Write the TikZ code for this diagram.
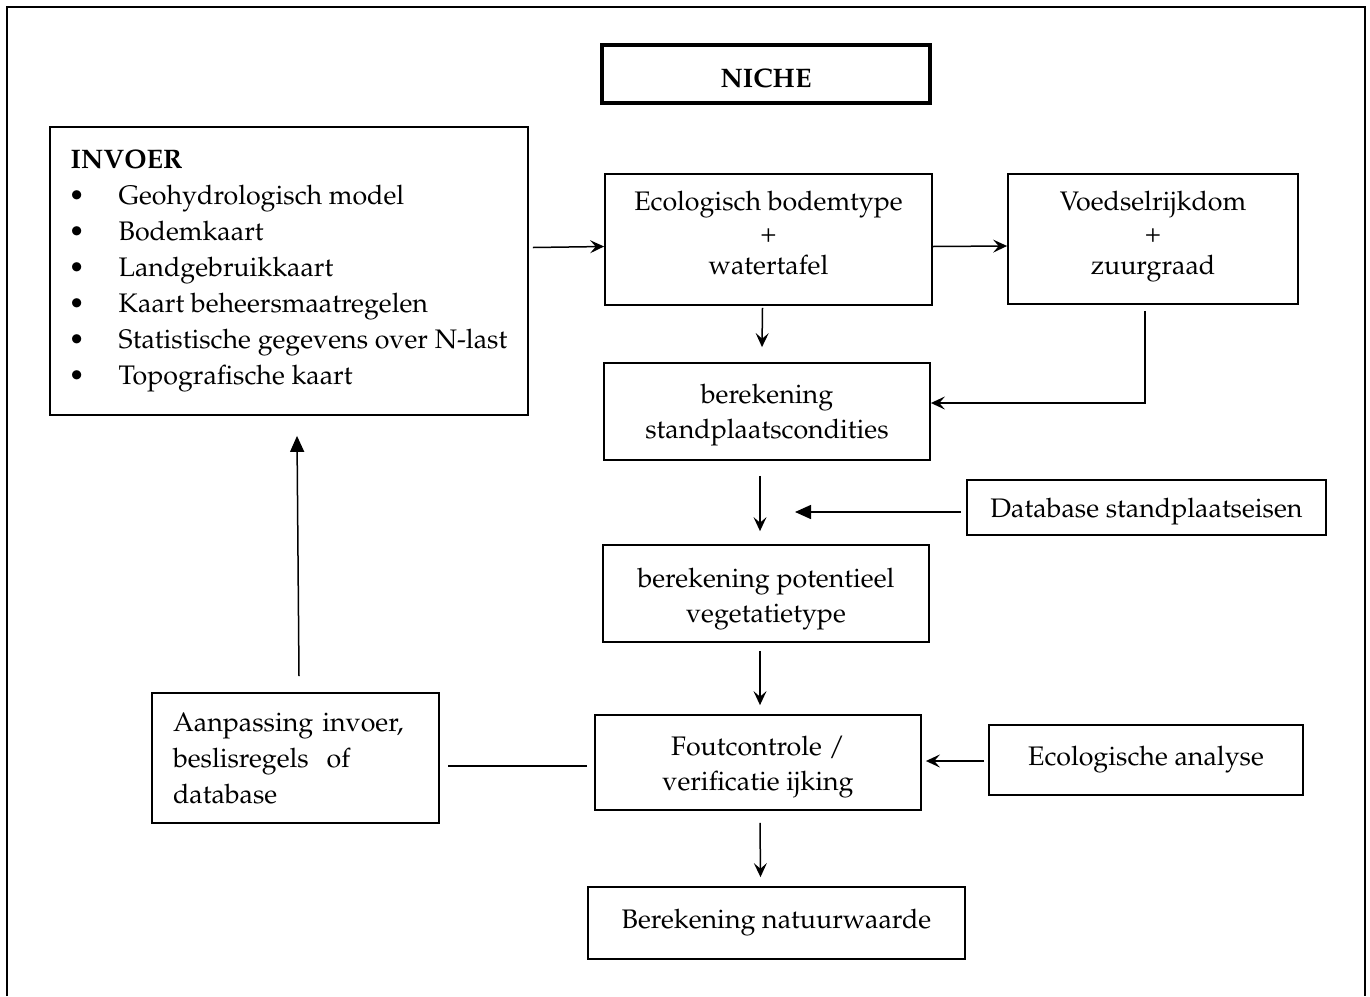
\documentclass[tikz,border=0pt]{standalone}
\usepackage[T1]{fontenc}
\usepackage{mathpazo}
\usepackage{tikz}
\usetikzlibrary{arrows.meta}
\usetikzlibrary{calc}

\newcommand{\invbullet}{\makebox[24pt][l]{\hspace{-1pt}\textbullet}}
\newcommand{\nudge}[2]{\raisebox{#1}[\height][\depth]{\begin{tabular}{@{}c@{}}#2\end{tabular}}}

\begin{document}
\begin{tikzpicture}[x=0.5pt, y=-0.5pt,
    box/.style={draw, line width=0.9pt, align=center, inner sep=0pt,
      font=\fontsize{13.4}{17.5}\selectfont},
    arr/.style={-{Stealth[length=7pt, width=6.5pt, inset=2.8pt]}, line width=0.75pt},
    bigarr/.style={-{Triangle[length=8pt, width=7pt]}, line width=0.75pt}]

    \useasboundingbox (0, 0) rectangle (1370, 996);
    \draw [line width=1pt] (7, 996) -- (7, 7) -- (1365, 7) -- (1365, 996);

    \node [box, line width=2pt, minimum width=164pt, minimum height=29pt,
      font=\fontsize{13.4}{17.5}\selectfont\bfseries] (niche) at (766, 74)
      {\raisebox{-2pt}[\height][\depth]{NICHE}};

    \node [box, align=left, minimum width=239pt, minimum height=144pt,
      font=\fontsize{13.4}{18}\selectfont] (invoer) at (289, 271)
      {\textbf{INVOER}\\
        \invbullet Geohydrologisch model\\
        \invbullet Bodemkaart\\
        \invbullet Landgebruikkaart\\
        \invbullet Kaart beheersmaatregelen\\
        \invbullet Statistische gegevens over N-last\\
        \invbullet Topografische kaart};

    \node [box, minimum width=163.5pt, minimum height=65.5pt,
      font=\fontsize{13.4}{16}\selectfont] (eco) at (768.5, 239.5)
      {\nudge{1.5pt}{Ecologisch bodemtype\\ +\\ watertafel}};
    \node [box, minimum width=145pt, minimum height=65pt,
      font=\fontsize{13.4}{16}\selectfont] (voed) at (1153, 239)
      {\nudge{1.5pt}{Voedselrijkdom\\ +\\ zuurgraad}};
    \node [box, minimum width=163pt, minimum height=48.5pt] (stand) at (767, 411.5)
      {\nudge{-1pt}{berekening\\ standplaatscondities}};
    \node [box, minimum width=179.5pt, minimum height=27.5pt] (dbase) at (1146.5, 507.5)
      {\raisebox{-2pt}[\height][\depth]{Database standplaatseisen}};
    \node [box, minimum width=163pt, minimum height=48.5pt] (veg) at (766, 593.5)
      {\nudge{-2pt}{berekening potentieel\\ vegetatietype}};
    \node [box, minimum width=163pt, minimum height=47.5pt] (fout) at (758, 762.5)
      {\nudge{-1.5pt}{Foutcontrole /\\ verificatie ijking}};
    \node [box, minimum width=157pt, minimum height=35pt] (ecoan) at (1146, 760)
      {Ecologische analyse};
    \node [box, align=left, text width=122.5pt, inner xsep=10.5pt,
      minimum height=65pt, font=\fontsize{13.4}{18}\selectfont] (aanp) at (295.5, 758)
      {Aanpassing invoer,\\ beslisregels\ \ of\\ database};
    \node [box, minimum width=188.5pt, minimum height=36pt] (natuur) at (776.5, 923)
      {Berekening natuurwaarde};

    \coordinate (dbend) at (795, 512);

    \draw [arr] ($(invoer.east |- eco.west)+(4, 8)$) -- ($(eco.west)+(0, 7)$);
    \draw [arr] ($(eco.east)+(0, 7)$) -- ($(voed.west)+(0, 7)$);
    \draw [arr] ($(eco.south)+(-6, 2)$) -- ($(stand.north)+(-5, -15)$);
    \draw [arr] ($(voed.south)+(-8, 6)$) |- ($(stand.east)+(0, -8.5)$);
    \draw [arr] ($(stand.south)+(-7, 15)$) -- ($(veg.north)+(-6, -13)$);
    \draw [bigarr] ($(dbase.west)+(-5, 4.5)$) -- (dbend);
    \draw [arr] ($(veg.south)+(-6, 8)$) -- ($(fout.north)+(2, -9)$);
    \draw [arr] ($(ecoan.west)+(-4, 1)$) -- ($(fout.east)+(4, -1.5)$);
    \draw [line width=0.75pt] ($(fout.west)+(-7, 3.5)$) -- ($(aanp.east)+(8, 8)$);
    \draw [bigarr] ($(aanp.north)+(3.5, -16)$) -- ($(invoer.south)+(8, 20)$);
    \draw [arr] ($(fout.south)+(2, 12)$) -- ($(natuur.north)+(-16, -9)$);

\end{tikzpicture}
\end{document}
